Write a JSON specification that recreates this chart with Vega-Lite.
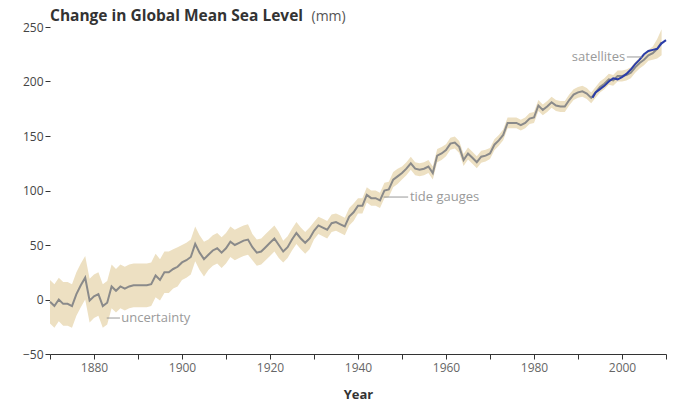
{
  "$schema": "https://vega.github.io/schema/vega-lite/v6.json",
  "width": 616,
  "height": 327,
  "autosize": {"type": "none"},
  "padding": {"left": 50, "top": 27, "right": 10, "bottom": 49},
  "background": "white",
  "title": {"text": "Change in Global Mean Sea Level", "anchor": "start", "frame": "group", "fontSize": 15.5, "fontWeight": "bold", "color": "#333333", "font": "Open Sans", "offset": 2, "dy": 17},
  "config": {
    "view": {"stroke": null},
    "axis": {"grid": false, "labelFont": "Open Sans", "titleFont": "Open Sans", "labelFontSize": 12, "labelColor": "#555555", "tickColor": "#333333", "domainColor": "#333333"}
  },
  "datasets": {
    "gauge": [
      {"year":1870,"mm":-2,"lo":-22,"hi":18},{"year":1871,"mm":-6,"lo":-26,"hi":14},{"year":1872,"mm":0,"lo":-20,"hi":20},{"year":1873,"mm":-4,"lo":-24,"hi":16},{"year":1874,"mm":-4,"lo":-24,"hi":16},{"year":1875,"mm":-6,"lo":-26,"hi":14},{"year":1876,"mm":5,"lo":-15,"hi":25},{"year":1877,"mm":13,"lo":-7,"hi":33},{"year":1878,"mm":20,"lo":0,"hi":40},{"year":1879,"mm":-1,"lo":-21,"hi":19},
      {"year":1880,"mm":3,"lo":-17,"hi":23},{"year":1881,"mm":5,"lo":-15,"hi":25},{"year":1882,"mm":-6,"lo":-26,"hi":14},{"year":1883,"mm":-3,"lo":-23,"hi":17},{"year":1884,"mm":12,"lo":-8,"hi":32},{"year":1885,"mm":8,"lo":-12,"hi":28},{"year":1886,"mm":12,"lo":-8,"hi":32},{"year":1887,"mm":10,"lo":-10,"hi":30},{"year":1888,"mm":12,"lo":-8,"hi":32},{"year":1889,"mm":13,"lo":-7,"hi":33},
      {"year":1890,"mm":13,"lo":-7,"hi":33},{"year":1891,"mm":13,"lo":-7,"hi":33},{"year":1892,"mm":13,"lo":-7,"hi":33},{"year":1893,"mm":14,"lo":-6,"hi":34},{"year":1894,"mm":22,"lo":2,"hi":42},{"year":1895,"mm":18,"lo":-1,"hi":37},{"year":1896,"mm":25,"lo":6,"hi":44},{"year":1897,"mm":25,"lo":6,"hi":44},{"year":1898,"mm":28,"lo":10,"hi":46},{"year":1899,"mm":30,"lo":12,"hi":48},
      {"year":1900,"mm":34,"lo":18,"hi":50},{"year":1901,"mm":36,"lo":20,"hi":52},{"year":1902,"mm":39,"lo":23,"hi":55},{"year":1903,"mm":51,"lo":35,"hi":67},{"year":1904,"mm":43,"lo":27,"hi":59},{"year":1905,"mm":37,"lo":21,"hi":53},{"year":1906,"mm":41,"lo":27,"hi":55},{"year":1907,"mm":45,"lo":31,"hi":59},{"year":1908,"mm":47,"lo":33,"hi":61},{"year":1909,"mm":43,"lo":29,"hi":57},
      {"year":1910,"mm":47,"lo":33,"hi":61},{"year":1911,"mm":53,"lo":39,"hi":67},{"year":1912,"mm":50,"lo":36,"hi":64},{"year":1913,"mm":52,"lo":38,"hi":66},{"year":1914,"mm":54,"lo":40,"hi":68},{"year":1915,"mm":55,"lo":41,"hi":69},{"year":1916,"mm":48,"lo":36,"hi":60},{"year":1917,"mm":43,"lo":31,"hi":55},{"year":1918,"mm":44,"lo":32,"hi":56},{"year":1919,"mm":48,"lo":36,"hi":60},
      {"year":1920,"mm":52,"lo":40,"hi":64},{"year":1921,"mm":56,"lo":44,"hi":68},{"year":1922,"mm":50,"lo":38,"hi":62},{"year":1923,"mm":44,"lo":34,"hi":54},{"year":1924,"mm":48,"lo":38,"hi":58},{"year":1925,"mm":55,"lo":45,"hi":65},{"year":1926,"mm":61,"lo":51,"hi":71},{"year":1927,"mm":56,"lo":46,"hi":66},{"year":1928,"mm":52,"lo":42,"hi":62},{"year":1929,"mm":56,"lo":46,"hi":66},
      {"year":1930,"mm":63,"lo":55,"hi":71},{"year":1931,"mm":68,"lo":60,"hi":76},{"year":1932,"mm":66,"lo":58,"hi":74},{"year":1933,"mm":64,"lo":56,"hi":72},{"year":1934,"mm":70,"lo":62,"hi":78},{"year":1935,"mm":71,"lo":63,"hi":79},{"year":1936,"mm":69,"lo":61,"hi":77},{"year":1937,"mm":67,"lo":59,"hi":75},{"year":1938,"mm":76,"lo":68,"hi":84},{"year":1939,"mm":80,"lo":72,"hi":88},
      {"year":1940,"mm":86,"lo":79,"hi":93},{"year":1941,"mm":86,"lo":79,"hi":93},{"year":1942,"mm":96,"lo":89,"hi":103},{"year":1943,"mm":93,"lo":86,"hi":100},{"year":1944,"mm":93,"lo":86,"hi":100},{"year":1945,"mm":91,"lo":84,"hi":98},{"year":1946,"mm":100,"lo":93,"hi":107},{"year":1947,"mm":101,"lo":94,"hi":108},{"year":1948,"mm":110,"lo":103,"hi":117},{"year":1949,"mm":113,"lo":106,"hi":120},
      {"year":1950,"mm":116,"lo":110,"hi":122},{"year":1951,"mm":120,"lo":114,"hi":126},{"year":1952,"mm":125,"lo":119,"hi":131},{"year":1953,"mm":120,"lo":114,"hi":126},{"year":1954,"mm":119,"lo":113,"hi":125},{"year":1955,"mm":120,"lo":114,"hi":126},{"year":1956,"mm":122,"lo":116,"hi":128},{"year":1957,"mm":116,"lo":110,"hi":122},{"year":1958,"mm":132,"lo":126,"hi":138},{"year":1959,"mm":134,"lo":128,"hi":140},
      {"year":1960,"mm":137,"lo":131.5,"hi":142.5},{"year":1961,"mm":143,"lo":137.5,"hi":148.5},{"year":1962,"mm":144,"lo":138.5,"hi":149.5},{"year":1963,"mm":140,"lo":134.5,"hi":145.5},{"year":1964,"mm":128,"lo":122.5,"hi":133.5},{"year":1965,"mm":134,"lo":128.5,"hi":139.5},{"year":1966,"mm":130,"lo":124.5,"hi":135.5},{"year":1967,"mm":126,"lo":120.5,"hi":131.5},{"year":1968,"mm":131,"lo":125.5,"hi":136.5},{"year":1969,"mm":132,"lo":126.5,"hi":137.5},
      {"year":1970,"mm":134,"lo":129,"hi":139},{"year":1971,"mm":142,"lo":137,"hi":147},{"year":1972,"mm":146,"lo":141,"hi":151},{"year":1973,"mm":151,"lo":146,"hi":156},{"year":1974,"mm":162,"lo":157,"hi":167},{"year":1975,"mm":162,"lo":157,"hi":167},{"year":1976,"mm":162,"lo":157,"hi":167},{"year":1977,"mm":160,"lo":155,"hi":165},{"year":1978,"mm":162,"lo":157,"hi":167},{"year":1979,"mm":166,"lo":161,"hi":171},
      {"year":1980,"mm":167,"lo":162,"hi":172},{"year":1981,"mm":178,"lo":173,"hi":183},{"year":1982,"mm":174,"lo":169,"hi":179},{"year":1983,"mm":177,"lo":172,"hi":182},{"year":1984,"mm":181,"lo":176,"hi":186},{"year":1985,"mm":178,"lo":173,"hi":183},{"year":1986,"mm":177,"lo":172,"hi":182},{"year":1987,"mm":177,"lo":172,"hi":182},{"year":1988,"mm":183,"lo":178,"hi":188},{"year":1989,"mm":188,"lo":183,"hi":193},
      {"year":1990,"mm":190,"lo":185,"hi":195},{"year":1991,"mm":191,"lo":186,"hi":196},{"year":1992,"mm":189,"lo":184,"hi":194},{"year":1993,"mm":185,"lo":180,"hi":190},{"year":1994,"mm":190,"lo":185,"hi":195},{"year":1995,"mm":195,"lo":190,"hi":200},{"year":1996,"mm":198,"lo":193,"hi":203},{"year":1997,"mm":202,"lo":197,"hi":207},{"year":1998,"mm":201,"lo":196,"hi":206},{"year":1999,"mm":205,"lo":200,"hi":210},
      {"year":2000,"mm":205,"lo":200,"hi":210},{"year":2001,"mm":206,"lo":201,"hi":211},{"year":2002,"mm":208,"lo":203,"hi":213},{"year":2003,"mm":213,"lo":208,"hi":218},{"year":2004,"mm":217,"lo":212,"hi":222},{"year":2005,"mm":220,"lo":215,"hi":225},{"year":2006,"mm":224,"lo":219,"hi":229},{"year":2007,"mm":226,"lo":220,"hi":232},{"year":2008,"mm":230,"lo":221,"hi":239},{"year":2009,"mm":236,"lo":224,"hi":248}
    ],
    "sat": [
      {"year":1993.3,"mm":185},{"year":1994,"mm":190},{"year":1995,"mm":193},{"year":1996,"mm":196},{"year":1997,"mm":200},{"year":1998,"mm":203},{"year":1999,"mm":202},{"year":2000,"mm":204},{"year":2001,"mm":207},{"year":2002,"mm":211},{"year":2003,"mm":216},{"year":2004,"mm":220},{"year":2005,"mm":225},{"year":2006,"mm":228},{"year":2007,"mm":229},{"year":2008,"mm":230},{"year":2009,"mm":235},{"year":2010,"mm":238}
    ],
    "notes": [
      {"x1":1882.9,"x2":1885.9,"y":-17,"tx":1886.2,"label":"uncertainty"},
      {"x1":1945.8,"x2":1951.4,"y":94,"tx":1951.8,"label":"tide gauges"},
      {"x1":2001.1,"x2":2004.5,"y":222.5,"tx":1988.6,"label":"satellites"}
    ]
  },
  "layer": [
    {
      "data": {"name": "gauge"},
      "mark": {"type": "area", "color": "#EDE0C2", "opacity": 1},
      "encoding": {
        "x": {"field": "year", "type": "quantitative", "scale": {"domain": [1870, 2010], "nice": false, "zero": false},
              "axis": {"values": [1870,1880,1890,1900,1910,1920,1930,1940,1950,1960,1970,1980,1990,2000,2010], "labelExpr": "datum.value % 20 == 0 ? datum.value : ''", "title": "Year", "titleFontSize": 13, "titleFontWeight": "bold", "titleColor": "#333333", "tickSize": 5, "labelPadding": 3, "titlePadding": 15, "domainWidth": 1, "labelColor": "#666666"}},
        "y": {"field": "lo", "type": "quantitative", "scale": {"domain": [-50, 250], "nice": false, "zero": false},
              "axis": {"values": [-50,0,50,100,150,200,250], "domain": false, "tickSize": 5, "labelPadding": 2, "labelColor": "#444444", "title": "(mm)", "titleAngle": 0, "titleAlign": "left", "titleBaseline": "alphabetic", "titleX": 261, "titleY": -7, "titleFontWeight": "normal", "titleFontSize": 14, "titleColor": "#555555"}},
        "y2": {"field": "hi"}
      }
    },
    {
      "data": {"name": "gauge"},
      "mark": {"type": "line", "color": "#8A8A8A", "strokeWidth": 2},
      "encoding": {
        "x": {"field": "year", "type": "quantitative"},
        "y": {"field": "mm", "type": "quantitative"}
      }
    },
    {
      "data": {"name": "sat"},
      "mark": {"type": "line", "color": "#2B3DA8", "strokeWidth": 2},
      "encoding": {
        "x": {"field": "year", "type": "quantitative"},
        "y": {"field": "mm", "type": "quantitative"}
      }
    },
    {
      "data": {"name": "notes"},
      "mark": {"type": "rule", "color": "#999999", "strokeWidth": 1},
      "encoding": {
        "x": {"field": "x1", "type": "quantitative"},
        "x2": {"field": "x2"},
        "y": {"field": "y", "type": "quantitative"}
      }
    },
    {
      "data": {"name": "notes"},
      "mark": {"type": "text", "align": "left", "baseline": "middle", "color": "#9A9A9A", "font": "Open Sans", "fontSize": 13},
      "encoding": {
        "x": {"field": "tx", "type": "quantitative"},
        "y": {"field": "y", "type": "quantitative"},
        "text": {"field": "label"}
      }
    }
  ]
}
